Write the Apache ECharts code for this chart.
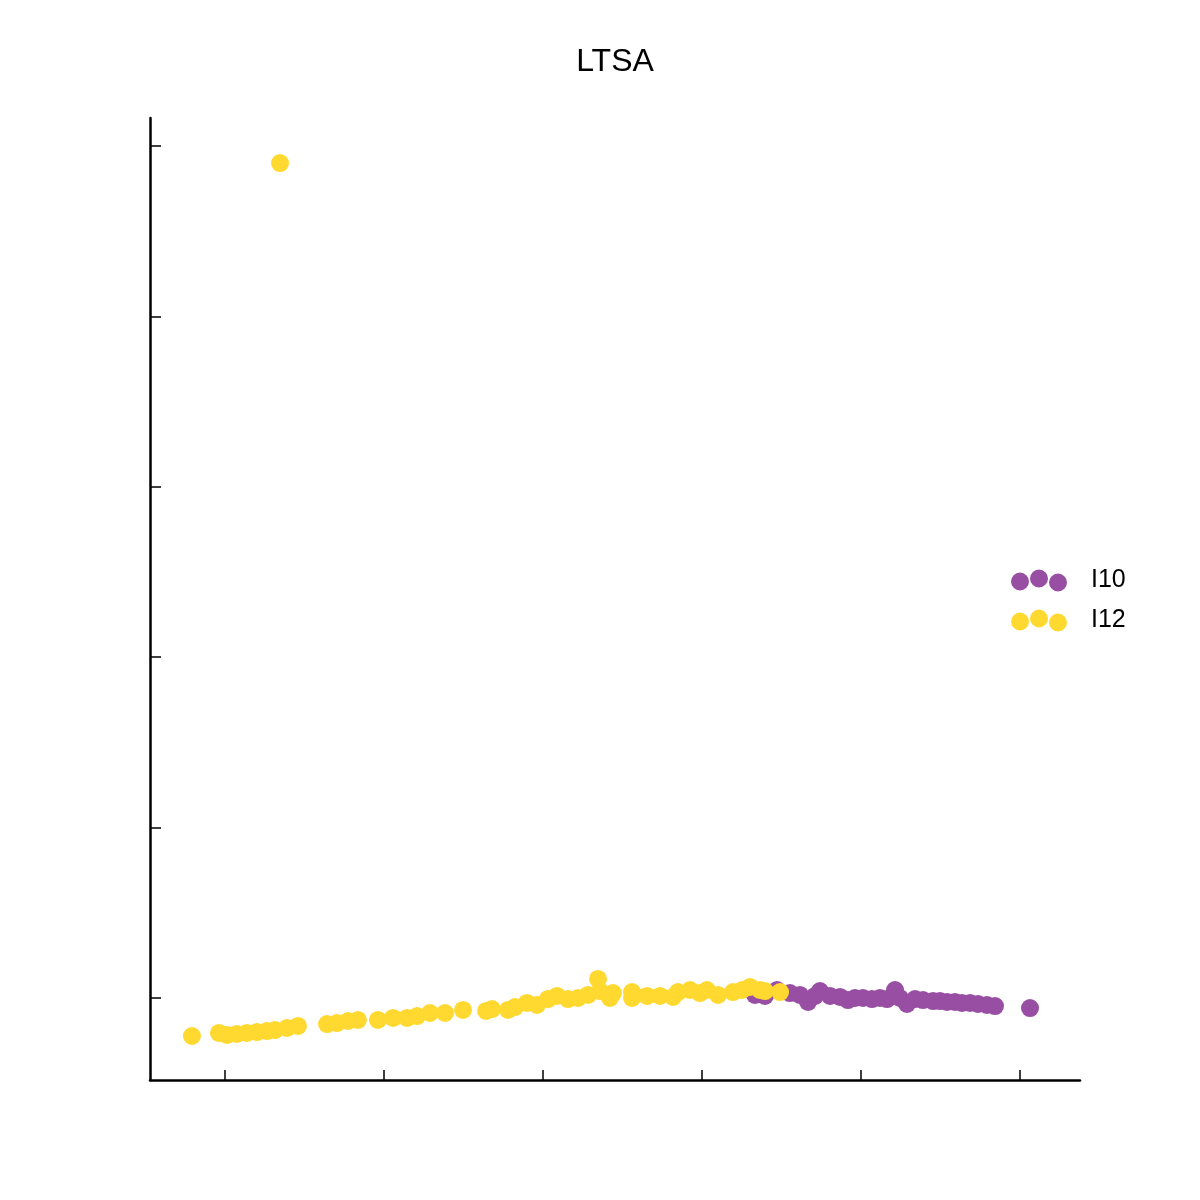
<!DOCTYPE html>
<html>
<head>
<meta charset="utf-8">
<script src="https://cdn.jsdelivr.net/npm/echarts@6/dist/echarts.min.js"></script>
<style>html,body{margin:0;padding:0;background:#fff}#c{width:1200px;height:1200px}</style>
</head>
<body>
<div id="c"></div>
<script>
const seriesNames = ['I10', 'I12'];
const xTicks = [0, 1, 2, 3, 4, 5];
const yTicks = [0, 1, 2, 3, 4, 5];
const i10 = [
  [3.333,0.018],[3.396,0.012],[3.472,0.047],[3.553,0.029],[3.616,0.018],[3.667,-0.023],
  [3.711,0.012],[3.742,0.041],[3.805,0.012],[3.868,0.006],[3.918,-0.012],[3.962,0],
  [4.013,0],[4.069,-0.006],[4.119,0],[4.164,-0.006],[4.214,0.047],[4.245,0],
  [4.289,-0.035],[4.340,-0.006],[4.390,-0.012],[4.453,-0.018],[4.497,-0.018],[4.541,-0.023],
  [4.591,-0.023],[4.635,-0.029],[4.686,-0.029],[4.736,-0.035],[4.792,-0.041],[4.843,-0.047],
  [5.063,-0.059]
];
const i12 = [
  [-0.208,-0.223],[-0.038,-0.205],[0.013,-0.217],[0.075,-0.211],[0.138,-0.205],[0.201,-0.200],
  [0.264,-0.194],[0.314,-0.188],[0.390,-0.176],[0.459,-0.164],[0.642,-0.153],[0.704,-0.147],
  [0.774,-0.135],[0.836,-0.129],[0.962,-0.129],[1.057,-0.117],[1.145,-0.117],[1.208,-0.106],
  [1.289,-0.088],[1.384,-0.088],[1.497,-0.070],[1.642,-0.076],[1.679,-0.065],[1.780,-0.070],
  [1.824,-0.053],[1.899,-0.029],[1.962,-0.041],[2.031,-0.006],[2.088,0.012],[2.157,-0.006],
  [2.220,0],[2.283,0.018],[2.346,0.112],[2.358,0.041],[2.421,0],[2.440,0.029],
  [2.560,0],[2.560,0.035],[2.654,0.012],[2.736,0.012],[2.818,0.006],[2.849,0.035],
  [2.925,0.047],[2.987,0.029],[3.031,0.047],[3.101,0.018],[3.195,0.035],[3.252,0.047],
  [3.302,0.065],[3.365,0.047],[3.396,0.041],[3.491,0.035],
  [0.346,4.900]
];
const colors = ['#984ea3', '#ffd92f'];
const icon = 'path://M0,12a9,9 0 1,0 18,0a9,9 0 1,0 -18,0z M19,9a9,9 0 1,0 18,0a9,9 0 1,0 -18,0z M38,13a9,9 0 1,0 18,0a9,9 0 1,0 -18,0z';
const chart = echarts.init(document.getElementById('c'), null, {renderer: 'canvas'});
chart.setOption({
  animation: false,
  backgroundColor: '#fff',
  title: {
    text: 'LTSA', left: 610, top: 41, textAlign: 'center',
    textStyle: {fontFamily: 'Liberation Sans', fontWeight: 'normal', fontSize: 32, color: '#000'}
  },
  legend: {
    orient: 'vertical', left: 1006, top: 563, itemWidth: 56, itemHeight: 22, itemGap: 15,
    icon: icon,
    textStyle: {fontFamily: 'Liberation Sans', fontSize: 25, lineHeight: 22, color: '#000', padding: [0,0,0,19]},
    data: seriesNames
  },
  grid: {left: 150, right: 120, top: 118, bottom: 120, containLabel: false},
  xAxis: {
    type: 'value', min: -0.4717, max: 5.3774,
    axisLine: {show: true, onZero: false, lineStyle: {color: '#000', width: 2.5}},
    axisTick: {show: true, inside: true, length: 10, lineStyle: {color: '#000', width: 1.5}, customValues: xTicks},
    axisLabel: {show: false},
    splitLine: {show: false}
  },
  yAxis: {
    type: 'value', min: -0.4812, max: 5.1643,
    axisLine: {show: true, onZero: false, lineStyle: {color: '#000', width: 2.5}},
    axisTick: {show: true, inside: true, length: 11, lineStyle: {color: '#000', width: 1.5}, customValues: yTicks},
    axisLabel: {show: false},
    splitLine: {show: false}
  },
  series: [
    {name: seriesNames[0], type: 'scatter', data: i10, symbolSize: 18, itemStyle: {color: colors[0], opacity: 1}, z: 2},
    {name: seriesNames[1], type: 'scatter', data: i12, symbolSize: 18, itemStyle: {color: colors[1], opacity: 1}, z: 3}
  ]
});
</script>
</body>
</html>
